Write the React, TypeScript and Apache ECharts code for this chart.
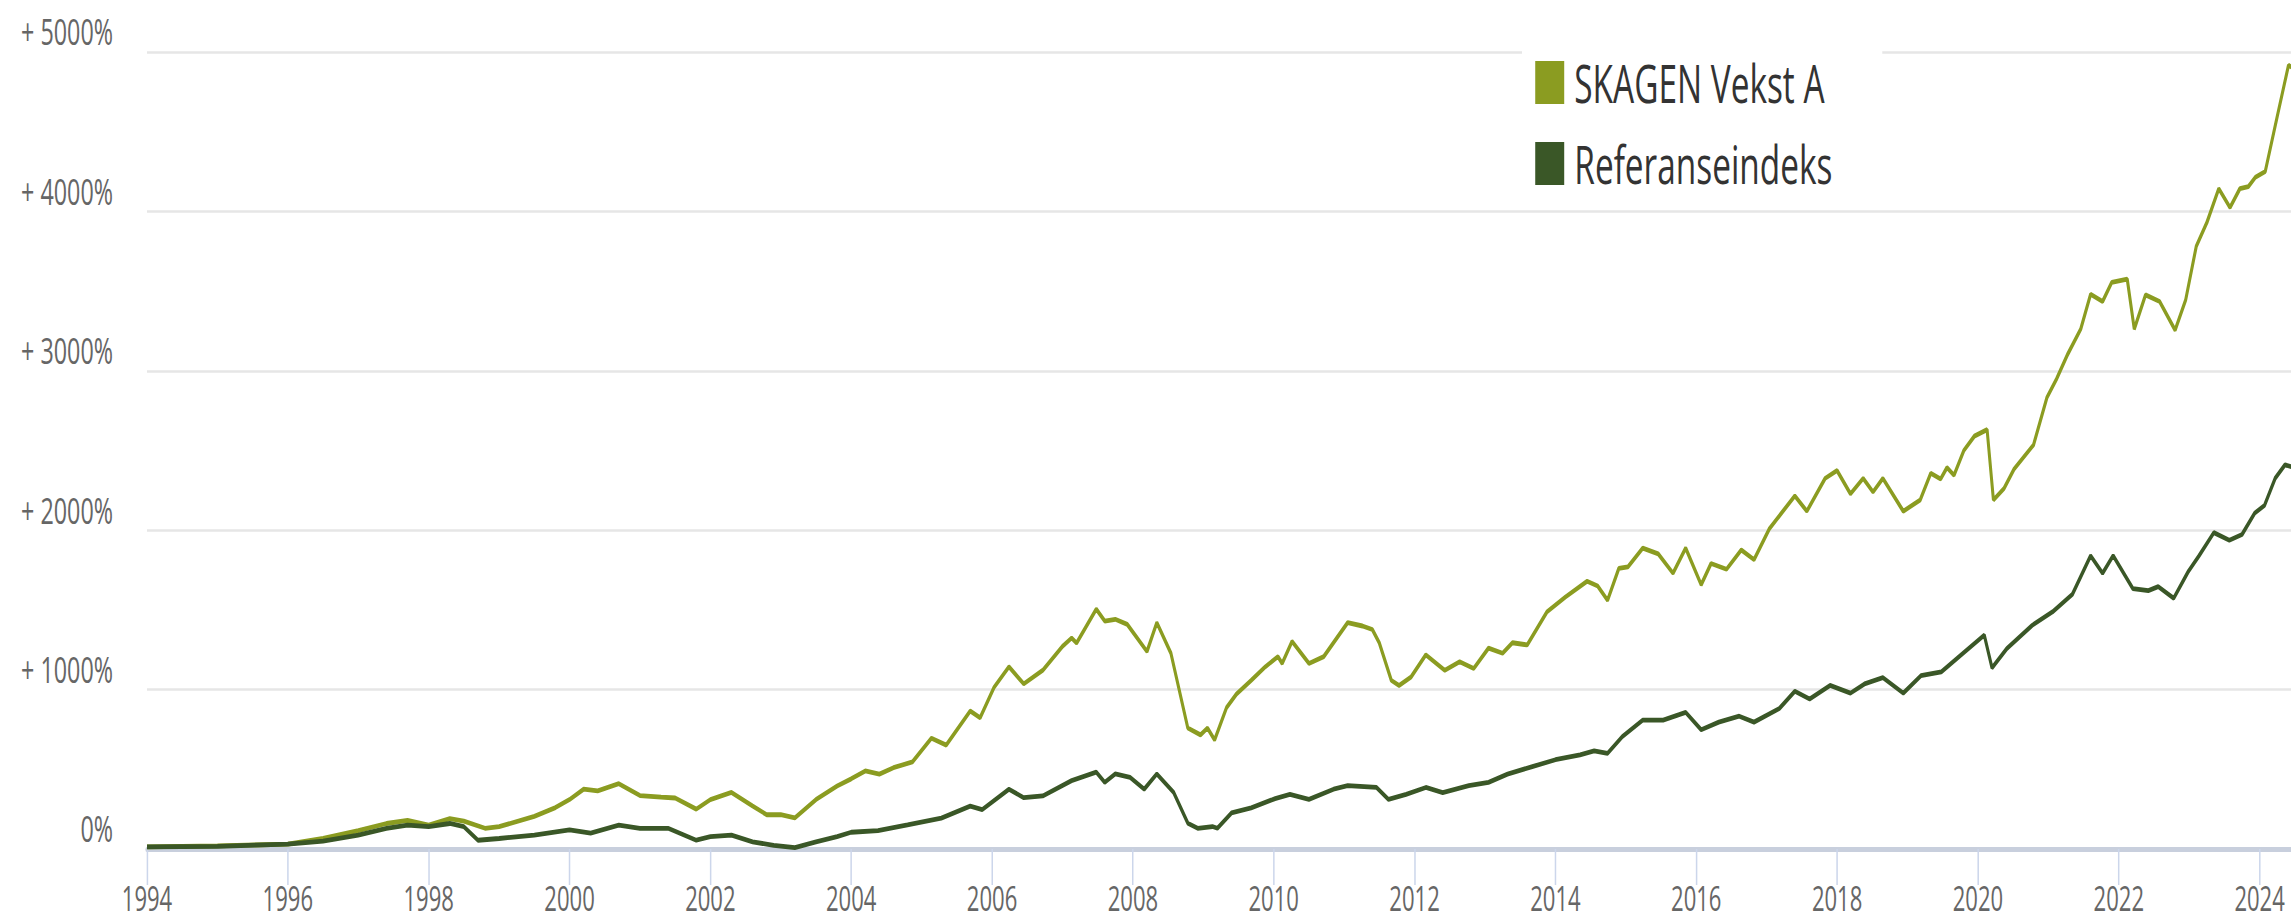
import React, { useEffect, useRef } from "react";
import * as echarts from "echarts";

// ---- data (years as decimals, values in % return) ----
const skagenDates = [
  1994.0, 1995.0, 1996.0, 1996.5, 1997.0, 1997.4, 1997.7, 1998.0, 1998.3, 1998.5, 1998.8, 1999.0,
  1999.5, 1999.8, 2000.0, 2000.2, 2000.4, 2000.7, 2001.0, 2001.3, 2001.5, 2001.8, 2002.0, 2002.3,
  2002.6, 2002.8, 2003.0, 2003.2, 2003.5, 2003.8, 2004.0, 2004.2, 2004.4, 2004.6, 2004.87, 2005.14,
  2005.35, 2005.69, 2005.83, 2006.03, 2006.24, 2006.45, 2006.72, 2007.0, 2007.13, 2007.2, 2007.48,
  2007.6, 2007.75, 2007.92, 2008.2, 2008.34, 2008.54, 2008.78, 2008.96, 2009.06, 2009.16, 2009.33,
  2009.47, 2009.68, 2009.88, 2010.06, 2010.12, 2010.26, 2010.5, 2010.71, 2011.05, 2011.26, 2011.4,
  2011.5, 2011.67, 2011.78, 2011.95, 2012.16, 2012.43, 2012.64, 2012.84, 2013.05, 2013.25, 2013.39,
  2013.6, 2013.88, 2014.14, 2014.45, 2014.6, 2014.74, 2014.9, 2015.03, 2015.24, 2015.46, 2015.67,
  2015.85, 2016.07, 2016.21, 2016.43, 2016.64, 2016.82, 2017.04, 2017.4, 2017.57, 2017.83, 2018.0,
  2018.19, 2018.37, 2018.51, 2018.65, 2018.94, 2019.18, 2019.33, 2019.47, 2019.56, 2019.66, 2019.8,
  2019.95, 2020.13, 2020.22, 2020.37, 2020.51, 2020.79, 2020.98, 2021.12, 2021.27, 2021.46, 2021.6,
  2021.77, 2021.9, 2022.12, 2022.22, 2022.38, 2022.58, 2022.8, 2022.95, 2023.1, 2023.25, 2023.42,
  2023.58, 2023.72, 2023.84, 2023.94, 2024.08, 2024.25, 2024.41, 2024.45,
];
const skagenValues = [
  13, 20, 30, 66, 115, 160, 180, 150, 190, 175, 130, 140,
  205, 260, 310, 375, 365, 410, 335, 325, 320, 250, 310, 355,
  270, 215, 215, 195, 310, 395, 440, 490, 470, 510, 546, 695,
  652, 866, 823, 1015, 1143, 1036, 1121, 1271, 1324, 1292, 1505,
  1430, 1441, 1409, 1239, 1420, 1228, 759, 716, 759, 684, 887,
  972, 1058, 1143, 1207, 1164, 1303, 1164, 1207, 1420, 1399, 1377,
  1292, 1058, 1026, 1079, 1218, 1121, 1175, 1132, 1260, 1228, 1294,
  1280, 1488, 1580, 1680, 1650, 1560, 1760, 1770, 1888, 1852, 1730,
  1888, 1658, 1791, 1755, 1876, 1815, 2010, 2216, 2119, 2325, 2374,
  2228, 2325, 2240, 2325, 2119, 2190, 2357, 2321, 2393, 2345, 2500,
  2590, 2631, 2190, 2262, 2381, 2536, 2833, 2952, 3100, 3262, 3480,
  3435, 3555, 3575, 3262, 3476, 3435, 3255, 3445, 3780, 3929, 4143,
  4024, 4143, 4155, 4214, 4250, 4595, 4917, 4905,
];

const refDates = [
  1994.0, 1995.0, 1996.0, 1996.5, 1997.0, 1997.4, 1997.7, 1998.0, 1998.3, 1998.5, 1998.7, 1999.0,
  1999.5, 2000.0, 2000.3, 2000.7, 2001.0, 2001.4, 2001.8, 2002.0, 2002.3, 2002.6, 2002.9, 2003.2,
  2003.5, 2003.8, 2004.0, 2004.38, 2004.8, 2005.28, 2005.69, 2005.86, 2006.24, 2006.45, 2006.72,
  2007.13, 2007.48, 2007.6, 2007.75, 2007.96, 2008.16, 2008.34, 2008.58, 2008.78, 2008.92, 2009.13,
  2009.2, 2009.4, 2009.68, 2010.02, 2010.23, 2010.5, 2010.85, 2011.05, 2011.46, 2011.63, 2011.88,
  2012.16, 2012.4, 2012.77, 2013.05, 2013.32, 2013.66, 2014.0, 2014.35, 2014.55, 2014.74, 2014.95,
  2015.24, 2015.53, 2015.85, 2016.07, 2016.32, 2016.61, 2016.82, 2017.18, 2017.4, 2017.61, 2017.9,
  2018.19, 2018.4, 2018.65, 2018.94, 2019.19, 2019.48, 2019.77, 2020.09, 2020.2, 2020.41, 2020.77,
  2021.06, 2021.34, 2021.6, 2021.77, 2021.92, 2022.2, 2022.42, 2022.56, 2022.78, 2022.99, 2023.14,
  2023.35, 2023.57, 2023.75, 2023.93, 2024.07, 2024.22, 2024.36, 2024.45,
];
const refValues = [
  13, 17, 30, 50, 87, 130, 150, 140, 160, 140, 55, 66,
  87, 120, 100, 150, 130, 130, 55, 77, 87, 45, 23, 8,
  45, 77, 105, 115, 151, 194, 269, 247, 375, 322, 333,
  429, 482, 418, 471, 450, 375, 471, 354, 162, 130, 141,
  130, 226, 258, 316, 343, 311, 375, 397, 386, 311, 343,
  386, 354, 397, 418, 470, 515, 560, 590, 615, 600, 705,
  808, 808, 857, 748, 796, 833, 796, 881, 990, 941, 1026,
  978, 1038, 1075, 978, 1087, 1111, 1221, 1342, 1136, 1257, 1403,
  1488, 1597, 1840, 1730, 1840, 1634, 1621, 1646, 1573, 1743, 1840,
  1985, 1937, 1973, 2107, 2156, 2325, 2410, 2398,
];

const xTickYears = [
  1994, 1996, 1998, 2000, 2002, 2004, 2006, 2008, 2010, 2012, 2014, 2016, 2018, 2020, 2022, 2024,
];
const yTicks = [0, 1000, 2000, 3000, 4000, 5000];
const seriesNames = ["SKAGEN Vekst A", "Referanseindeks"];

// ---- layout ----
const S = 0.63; // horizontal condensation of the whole picture
const W = 2291;
const H = 924;
const CW = W / S;

export default function App() {
  const ref = useRef<HTMLDivElement>(null);

  useEffect(() => {
    if (!ref.current) return;
    const chart = echarts.init(ref.current, undefined, { renderer: "svg" });
    const font = "'Open Sans', 'Noto Sans', sans-serif";
    const zip = (xs: number[], ys: number[]) => xs.map((x, i) => [x, ys[i]]);

    chart.setOption({
      animation: false,
      backgroundColor: "#ffffff",
      grid: { left: 147 / S, right: 0, top: 52, bottom: H - 849, containLabel: false },
      legend: {
        orient: "vertical",
        left: 1522 / S,
        top: 45,
        backgroundColor: "#ffffff",
        padding: [11, 79, 0, 21],
        itemWidth: 46,
        itemHeight: 43,
        itemGap: 28,
        icon: "rect",
        selectedMode: false,
        data: seriesNames,
        textStyle: {
          fontFamily: font,
          fontSize: 53,
          color: "#333333",
          padding: [0, 0, 0, 11],
        },
      },
      xAxis: {
        type: "value",
        min: 1994,
        max: 2024.45,
        interval: 2,
        splitLine: { show: false },
        axisLine: { show: true, onZero: false, lineStyle: { color: "#c8cfdd", width: 5 } },
        axisTick: {
          show: true,
          customValues: xTickYears,
          length: 36,
          lineStyle: { color: "#ccd6eb", width: 2.4 },
        },
        axisLabel: {
          customValues: xTickYears,
          formatter: (v: number) => String(Math.round(v)),
          fontFamily: font,
          fontSize: 35,
          lineHeight: 30,
          margin: 34,
          color: "#666666",
        },
      },
      yAxis: {
        type: "value",
        min: yTicks[0],
        max: yTicks[yTicks.length - 1],
        interval: 1000,
        axisLine: { show: false },
        axisTick: { show: false },
        splitLine: { show: true, lineStyle: { color: "#e6e6e6", width: 2.5 } },
        axisLabel: {
          formatter: (v: number) => (v === 0 ? "0%" : "+ " + v + "%"),
          fontFamily: font,
          fontSize: 37,
          lineHeight: 42,
          verticalAlign: "bottom",
          margin: 34 / S,
          color: "#666666",
        },
      },
      series: [
        {
          name: seriesNames[0],
          type: "line",
          data: zip(skagenDates, skagenValues),
          showSymbol: false,
          symbol: "none",
          lineStyle: { color: "#8b9c21", width: 4.8 },
          itemStyle: { color: "#8b9c21" },
          z: 3,
        },
        {
          name: seriesNames[1],
          type: "line",
          data: zip(refDates, refValues),
          showSymbol: false,
          symbol: "none",
          lineStyle: { color: "#3a5727", width: 4.8 },
          itemStyle: { color: "#3a5727" },
          z: 4,
        },
      ],
    });

    return () => chart.dispose();
  }, []);

  return (
    <div
      style={{
        position: "fixed",
        left: 0,
        top: 0,
        width: W,
        height: H,
        overflow: "hidden",
        background: "#ffffff",
      }}
    >
      <div
        ref={ref}
        style={{ width: CW, height: H, transform: `scaleX(${S})`, transformOrigin: "0 0" }}
      />
    </div>
  );
}
